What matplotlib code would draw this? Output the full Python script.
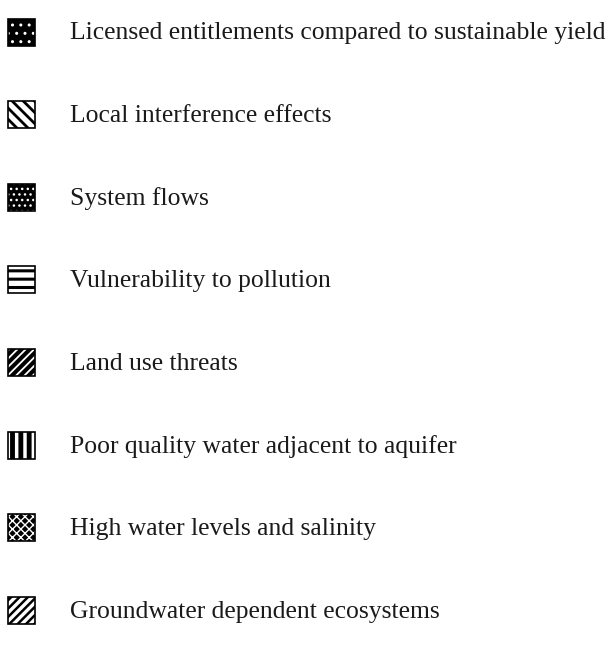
import matplotlib
matplotlib.use("Agg")
import matplotlib.pyplot as plt
from matplotlib.patches import Rectangle

labels = [
    "Licensed entitlements compared to sustainable yield",
    "Local interference effects",
    "System flows",
    "Vulnerability to pollution",
    "Land use threats",
    "Poor quality water adjacent to aquifer",
    "High water levels and salinity",
    "Groundwater dependent ecosystems",
]
# (face colour, hatch colour, hatch pattern, hatch linewidth)
styles = [
    ("black", "white", "..", 1.0),
    ("white", "black", "\\\\\\", 2.0),
    ("black", "white", "...", 1.0),
    ("white", "black", "--", 2.2),
    ("black", "white", "////", 1.3),
    ("white", "black", "||", 3.5),
    ("black", "white", "xxxx", 1.0),
    ("white", "black", "////", 1.8),
]

W, H = 611, 654
fig = plt.figure(figsize=(W / 100, H / 100), dpi=100)
ax = fig.add_axes([0, 0, 1, 1])
ax.set_xlim(0, W)
ax.set_ylim(H, 0)
ax.axis("off")

y0, dy = 32, 82.6
pw, ph = 27, 27
px = 8
for i, (lab, (fc, hc, hatch, hlw)) in enumerate(zip(labels, styles)):
    yc = y0 + i * dy
    hp = Rectangle((px, yc - ph / 2), pw, ph, facecolor=fc, edgecolor=hc,
                   hatch=hatch, linewidth=0)
    if hasattr(hp, "set_hatch_linewidth"):
        hp.set_hatch_linewidth(hlw)
    ax.add_patch(hp)
    ax.add_patch(Rectangle((px, yc - ph / 2), pw, ph, facecolor="none",
                           edgecolor="black", linewidth=1.2))
    ax.text(70, yc + 1.5, lab, family="Liberation Serif", fontsize=18.45,
            va="center", ha="left", color="#1a1a1a")

fig.savefig("out.png", dpi=100)
